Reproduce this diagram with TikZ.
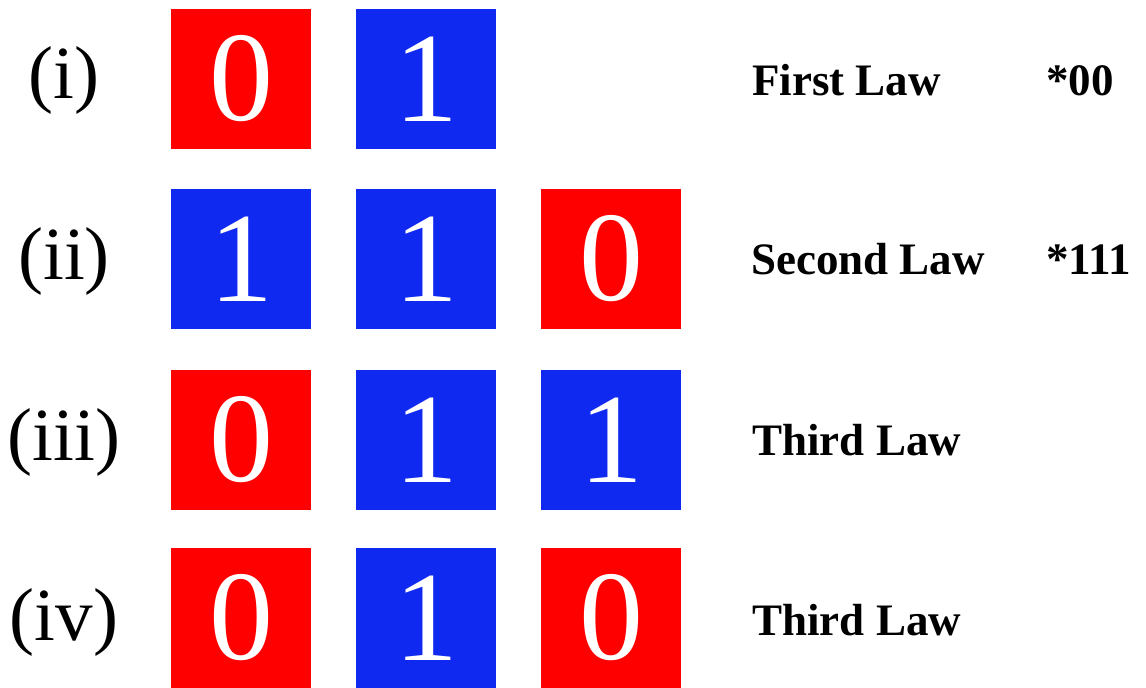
\documentclass[tikz,border=0pt]{standalone}
\usepackage{fontspec}
\setmainfont{Liberation Serif}
\usepackage{xcolor}
\definecolor{bitred}  {HTML}{FF0000}
\definecolor{bitblue} {HTML}{1029F0}

\begin{document}
\begin{tikzpicture}[x=1pt, y=-1pt,
    every node/.style={inner sep=0pt},
    bit/.style={minimum size=140pt, text=white,
                font=\fontsize{128}{128}\selectfont},
    zero/.style={bit, fill=bitred},
    one/.style={bit, fill=bitblue},
    rowlabel/.style={anchor=base, font=\fontsize{75}{75}\selectfont},
    law/.style={anchor=base west, font=\fontsize{45}{45}\selectfont\bfseries}]

    \useasboundingbox (0,0) rectangle (1146,688);

    % --- (i) two cells, first law.
    \node[rowlabel] (lab1) at (64, 98) {(i)};
    \node[zero] (r1c1) at (241, 79) {0};
    \node[one]  (r1c2) at (426, 79) {1};
    \node[law]  (law1) at (752, 95) {First Law};
    \node[law]  (str1) at (1046, 95) {*00};

    % --- (ii) three cells, second law.
    \node[rowlabel] (lab2) at (64, 279) {(ii)};
    \node[one]  (r2c1) at (241, 259) {1};
    \node[one]  (r2c2) at (426, 259) {1};
    \node[zero] (r2c3) at (611, 259) {0};
    \node[law]  (law2) at (751, 274) {Second Law};
    \node[law]  (str2) at (1046, 274) {*111};

    % --- (iii) three cells, third law.
    \node[rowlabel] (lab3) at (64, 460) {(iii)};
    \node[zero] (r3c1) at (241, 440) {0};
    \node[one]  (r3c2) at (426, 440) {1};
    \node[one]  (r3c3) at (611, 440) {1};
    \node[law]  (law3) at (752, 455) {Third Law};

    % --- (iv) three cells, third law again.
    \node[rowlabel] (lab4) at (64, 640) {(iv)};
    \node[zero] (r4c1) at (241, 618) {0};
    \node[one]  (r4c2) at (426, 618) {1};
    \node[zero] (r4c3) at (611, 618) {0};
    \node[law]  (law4) at (752, 635) {Third Law};
\end{tikzpicture}
\end{document}
